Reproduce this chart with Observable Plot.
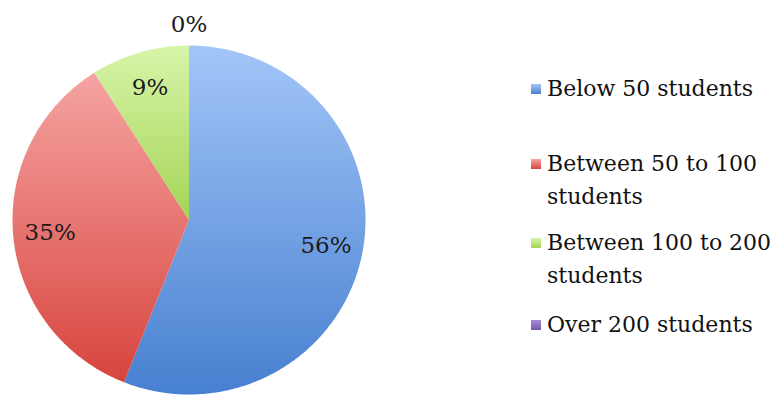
<!DOCTYPE html>
<html>
<head>
<meta charset="utf-8">
<script src="https://cdn.jsdelivr.net/npm/d3@7"></script>
<script src="https://cdn.jsdelivr.net/npm/@observablehq/plot@0.6"></script>
<style>
  html, body { margin: 0; padding: 0; background: #fff; }
  #chart { position: relative; width: 778px; height: 397px; overflow: hidden; font-family: "DejaVu Serif", serif; }
  #chart svg { position: absolute; left: 0; top: 0; }
  .legend { position: absolute; left: 531px; top: 0; color: #111; font-size: 22px; line-height: 33px; }
  .item { position: absolute; left: 0; white-space: nowrap; }
  .sw { position: absolute; left: 0; width: 10px; height: 10px; }
  .lab { position: absolute; left: 16px; }
</style>
</head>
<body>
<div id="chart"></div>
<script>
// ---- data ----
const categories = ["Below 50 students", "Between 50 to 100 students", "Between 100 to 200 students", "Over 200 students"];
const shares = [56, 35, 9, 0];
const shareLabels = ["56%", "35%", "9%", "0%"];
const legendLines = [["Below 50 students"], ["Between 50 to 100", "students"], ["Between 100 to 200", "students"], ["Over 200 students"]];
const gradTop = ["#a3c6f8", "#f5a4a2", "#d8f5aa", "#a58bd6"];
const gradBottom = ["#4780d0", "#d8443e", "#a3d455", "#7459b0"];

// ---- slice geometry from the data ----
const total = d3.sum(shares);
let acc = 0;
const slices = categories.map((c, i) => {
  const a0 = acc / total * 2 * Math.PI;
  acc += shares[i];
  const a1 = acc / total * 2 * Math.PI;
  return {cat: c, i, a0, a1, value: shares[i], label: shareLabels[i]};
});
function slicePoints(s) {
  const pts = [{x: 0, y: 0}];
  const n = Math.max(2, Math.ceil((s.a1 - s.a0) / (Math.PI / 360)));
  for (let k = 0; k <= n; k++) {
    const a = s.a0 + (s.a1 - s.a0) * k / n;
    pts.push({x: Math.sin(a), y: Math.cos(a)});
  }
  pts.push({x: 0, y: 0});
  return pts;
}
const labelData = slices.map(s => {
  const m = (s.a0 + s.a1) / 2;
  const r = s.value > 0 ? 0.79 : 1.12;
  return {x: r * Math.sin(m), y: r * Math.cos(m), text: s.label};
});

const marks = slices.filter(s => s.value > 0).map(s =>
  Plot.line(slicePoints(s), {x: "x", y: "y", fill: `url(#grad${s.i})`, stroke: "none", curve: "linear"})
);
marks.push(Plot.text(labelData, {x: "x", y: "y", text: "text", fontSize: 23, fill: "#1a1a1a", fontFamily: "DejaVu Serif, serif"}));

const svg = Plot.plot({
  width: 778,
  height: 397,
  x: {domain: [-1, 1], range: [12, 365], axis: null},
  y: {domain: [-1, 1], range: [394, 45], axis: null},
  style: {background: "transparent", overflow: "visible"},
  marks
});

// gradients
const defs = d3.select(svg).insert("defs", ":first-child");
categories.forEach((c, i) => {
  const g = defs.append("linearGradient").attr("id", `grad${i}`).attr("x1", 0).attr("y1", 0).attr("x2", 0).attr("y2", 1);
  g.append("stop").attr("offset", "0%").attr("stop-color", gradTop[i]);
  g.append("stop").attr("offset", "100%").attr("stop-color", gradBottom[i]);
});

const chart = document.getElementById("chart");
chart.appendChild(svg);

// legend
const legend = document.createElement("div");
legend.className = "legend";
const itemTops = [72, 147, 226, 308];
legendLines.forEach((lines, i) => {
  const item = document.createElement("div");
  item.className = "item";
  item.style.top = itemTops[i] + "px";
  const sw = document.createElement("div");
  sw.className = "sw";
  sw.style.top = "12px";
  sw.style.background = `linear-gradient(${gradTop[i]}, ${gradBottom[i]})`;
  item.appendChild(sw);
  const lab = document.createElement("div");
  lab.className = "lab";
  lab.innerHTML = lines.join("<br>");
  item.appendChild(lab);
  legend.appendChild(item);
});
chart.appendChild(legend);
</script>
</body>
</html>
